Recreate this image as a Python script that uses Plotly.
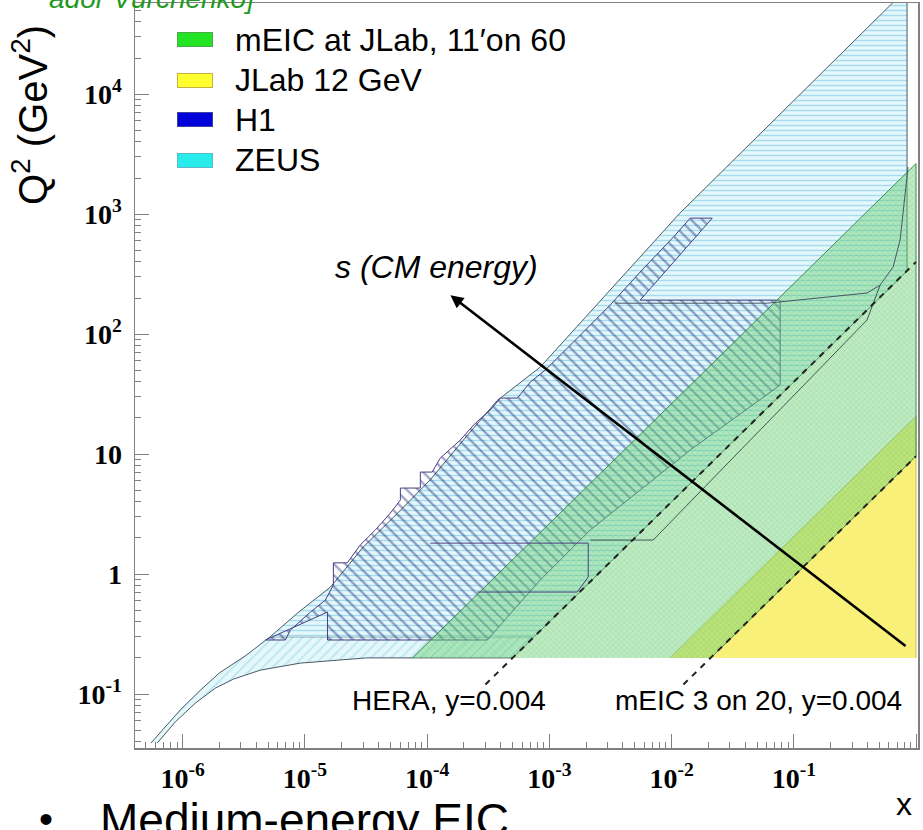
import math
import plotly.graph_objects as go

# ---------------- data: x (Bjorken) and Q^2 (GeV^2) ----------------
# ZEUS, low-Q2 part (beam-pipe region)
zeus_low_x = [5.5e-7, 7.2e-7, 9.6e-7, 1.4e-6, 2.0e-6, 3.3e-6, 5.2e-6, 7.5e-4, 5.0e-4,
              8.0e-5, 3.2e-5, 9.2e-6, 4.3e-6, 2.6e-6, 1.85e-6, 1.27e-6, 8.7e-7, 6.2e-7]
zeus_low_q2 = [0.039, 0.053, 0.074, 0.108, 0.15, 0.21, 0.30, 0.30, 0.20,
               0.20, 0.20, 0.181, 0.158, 0.133, 0.112, 0.084, 0.0585, 0.039]

# ZEUS, main region
zeus_x = [5.2e-6, 8.7e-6, 1.62e-5, 3.0e-5, 5.7e-5, 1.06e-4, 1.98e-4, 3.75e-4, 8.4e-4,
          1.17e-2, 0.558, 0.844, 0.844, 7.5e-4]
zeus_q2 = [0.30, 0.473, 0.78, 1.68, 3.2, 6.1, 13.1, 28, 53,
           1020, 5.0e4, 7.6e4, 336, 0.30]

# H1 region
h1_x = [4.75e-6, 6.93e-6, 7.6e-6, 1.11e-5, 1.47e-5, 1.71e-5, 1.71e-5, 2.22e-5, 2.84e-5,
        3.77e-5, 5.0e-5, 6.04e-5, 6.04e-5, 8.8e-5, 8.8e-5, 1.10e-4, 1.28e-4, 1.87e-4,
        2.48e-4, 3.29e-4, 3.97e-4, 5.47e-4, 6.98e-4, 9.25e-4, 1.63e-3, 3.15e-3, 5.53e-3,
        1.07e-2, 1.42e-2, 2.15e-2, 5.53e-3, 7.73e-2, 7.73e-2, 1.42e-2, 2.16e-3, 8.4e-4,
        3.1e-4, 1.53e-5, 1.53e-5, 4.75e-6]
h1_q2 = [0.282, 0.282, 0.341, 0.482, 0.607, 0.81, 1.24, 1.24, 1.75,
         2.33, 3.22, 4.14, 5.21, 5.21, 7.08, 7.08, 9.26, 13.1,
         18.1, 23.3, 29.3, 29.3, 39.8, 50.1, 89, 175, 329,
         668, 926, 926, 192, 192, 37.6, 10.8, 2.33, 0.89,
         0.282, 0.282, 0.482, 0.282]

# mEIC at JLab, 11 on 60
meic_x = [7.6e-5, 1.0, 1.0, 0.021]
meic_q2 = [0.2, 2640, 9.6, 0.2]

# JLab 12 GeV
jlab_x = [9.7e-3, 1.0, 1.0]
jlab_q2 = [0.2, 20.6, 0.2]

# dashed y = const lines
hera_line_x = [3.0e-4, 1.0]
hera_line_q2 = [0.12, 400]
meic_line_x = [1.25e-2, 1.0]
meic_line_q2 = [0.12, 9.6]

# extra region outlines
o1_x = [0.86, 0.74, 0.649, 0.508, 0.397, 0.0605, 3.46e-3]
o1_q2 = [2465, 607, 362, 256, 220, 181, 181]
o2_x = [1.06e-4, 2.08e-3, 2.08e-3, 1.69e-3, 2.57e-4]
o2_q2 = [1.81, 1.81, 0.944, 0.708, 0.708]
o3_x = [2.16e-3, 7.07e-3, 0.397, 0.508]
o3_q2 = [1.92, 1.92, 131, 256]

# arrow "s (CM energy)": tail -> head
arrow_x = [0.844, 1.55e-4]
arrow_q2 = [0.246, 211]

# text labels in the plot
label_texts = ["<i>s (CM energy)</i>", "HERA, y=0.004", "mEIC 3 on 20, y=0.004"]
label_x = [1.2e-4, 1.5e-4, 0.051]
label_q2 = [360, 0.088, 0.088]
label_sizes = [32, 28, 28]

legend_labels = ["mEIC at JLab, 11\u2032on 60", "JLab 12 GeV", "H1", "ZEUS"]
legend_colors = ["#22e422", "#ffff30", "#0000d8", "#28ecec"]
legend_borders = ["#4caa4c", "#c8b040", "#4040a0", "#60b8c0"]

x_tick_vals = [1e-6, 1e-5, 1e-4, 1e-3, 1e-2, 1e-1, 1]
x_tick_text = ["10<sup>-6</sup>", "10<sup>-5</sup>", "10<sup>-4</sup>", "10<sup>-3</sup>",
               "10<sup>-2</sup>", "10<sup>-1</sup>", "1"]
y_tick_vals = [0.1, 1, 10, 100, 1e3, 1e4]
y_tick_text = ["10<sup>-1</sup>", "1", "10", "10<sup>2</sup>", "10<sup>3</sup>", "10<sup>4</sup>"]

# ---------------- figure ----------------
fig = go.Figure()


def region(x, y, shape, fg, bg, size, sol, lcol, lw=1.0):
    fig.add_trace(go.Scatter(
        x=x, y=y, mode="lines", fill="toself",
        fillpattern=dict(shape=shape, fgcolor=fg, bgcolor=bg, size=size, solidity=sol),
        line=dict(color=lcol, width=lw), hoverinfo="skip", showlegend=False))


region(zeus_low_x, zeus_low_q2, "/", "rgba(90,190,210,0.75)", "rgba(228,248,251,1)", 7, 0.2, "#4a5a66", 1)
region(zeus_x, zeus_q2, "-", "rgba(70,175,215,0.8)", "rgba(228,248,251,1)", 5, 0.28, "#4a5a66", 1)
region(h1_x, h1_q2, "\\", "rgba(25,35,120,0.85)", "rgba(0,0,0,0)", 8, 0.28, "#4a3d80", 1)

fig.add_trace(go.Scatter(x=jlab_x, y=jlab_q2, mode="lines", fill="toself",
                         fillcolor="#f9f07a", line=dict(color="#b8b050", width=0.8),
                         hoverinfo="skip", showlegend=False))
region(meic_x, meic_q2, "x", "rgba(40,165,70,0.45)", "rgba(110,210,120,0.45)", 4, 0.25, "#3c8c50", 1)

for ox, oq, c in [(o1_x, o1_q2, "#4a5566"), (o2_x, o2_q2, "#4a3d80"), (o3_x, o3_q2, "#3d5a58")]:
    fig.add_trace(go.Scatter(x=ox, y=oq, mode="lines", line=dict(color=c, width=1),
                             hoverinfo="skip", showlegend=False))

for lx, lq in [(hera_line_x, hera_line_q2), (meic_line_x, meic_line_q2)]:
    fig.add_trace(go.Scatter(x=lx, y=lq, mode="lines",
                             line=dict(color="#222222", width=2, dash="6px,6px"),
                             hoverinfo="skip", showlegend=False))

annotations = []
# arrow
annotations.append(dict(
    x=math.log10(arrow_x[1]), y=math.log10(arrow_q2[1]),
    ax=math.log10(arrow_x[0]), ay=math.log10(arrow_q2[0]),
    xref="x", yref="y", axref="x", ayref="y", text="", showarrow=True,
    arrowhead=2, arrowsize=1.0, arrowwidth=2.6, arrowcolor="black"))
# labels
for t, lx, lq, fs in zip(label_texts, label_x, label_q2, label_sizes):
    annotations.append(dict(x=math.log10(lx), y=math.log10(lq), xref="x", yref="y",
                            text=t, showarrow=False, xanchor="center", yanchor="middle",
                            font=dict(family="Liberation Sans, Arial", size=fs, color="black")))

# legend (manual, solid swatches as in the original)
for i, (lab, col, bcol) in enumerate(zip(legend_labels, legend_colors, legend_borders)):
    py = 40 + 40 * i
    yp = (748 - py) / 745
    annotations.append(dict(x=(195 - 135) / 783, y=yp, xref="paper", yref="paper",
                            xanchor="center", yanchor="middle",
                            text=" ", showarrow=False, width=34, height=13,
                            bgcolor=col, bordercolor=bcol, borderwidth=1, borderpad=0))
    annotations.append(dict(x=(233 - 135) / 783, y=yp, xref="paper", yref="paper",
                            xanchor="left", yanchor="middle", text=lab, showarrow=False,
                            font=dict(family="Liberation Sans, Arial", size=32, color="black")))

# axis titles and slide text
annotations.append(dict(x=(30 - 135) / 783, y=(748 - 115) / 745, xref="paper", yref="paper",
                        xanchor="center", yanchor="middle",
                        text="Q<sup>2</sup> (GeV<sup>2</sup>)", textangle=-90, showarrow=False,
                        font=dict(family="Liberation Sans, Arial", size=40, color="black")))
annotations.append(dict(x=(904 - 135) / 783, y=(748 - 804) / 745, xref="paper", yref="paper",
                        xanchor="center", yanchor="middle",
                        text="x", showarrow=False,
                        font=dict(family="Liberation Sans, Arial", size=32, color="black")))
annotations.append(dict(x=(46 - 135) / 783, y=(748 - 795) / 745, xref="paper", yref="paper",
                        xanchor="center", yanchor="top", text="\u2022", showarrow=False,
                        font=dict(family="Liberation Sans, Arial", size=40, color="black")))
annotations.append(dict(x=(98 - 135) / 783, y=(748 - 792) / 745, xref="paper", yref="paper",
                        xanchor="left", yanchor="top", text="Medium-energy EIC", showarrow=False,
                        font=dict(family="Liberation Sans, Arial", size=46, color="black")))
annotations.append(dict(x=(257 - 135) / 783, y=(748 - 16) / 745, xref="paper", yref="paper",
                        xanchor="right", yanchor="bottom", text="<i>ador Vurchenko]</i>",
                        showarrow=False,
                        font=dict(family="Liberation Sans, Arial", size=28, color="#1f9a1f")))

minor_x = [m * 10 ** e for e in range(-7, 0) for m in range(2, 10)]
minor_y = [m * 10 ** e for e in range(-2, 5) for m in range(2, 10)]

axis_common = dict(type="log", showgrid=False, zeroline=False, showline=True, automargin=False,
                   linecolor="#808080", linewidth=1.5, mirror=True,
                   ticks="inside", ticklen=14, tickwidth=1, tickcolor="#808080",
                   tickmode="array",
                   tickfont=dict(family="Liberation Serif, Times New Roman", size=28,
                                 color="black", weight="bold"))

fig.update_layout(
    width=923, height=830, autosize=False,
    margin=dict(l=135, r=5, t=3, b=82, autoexpand=False),
    paper_bgcolor="white", plot_bgcolor="white",
    showlegend=False,
    xaxis=dict(**axis_common, range=[-6.39, 0.016], tickvals=x_tick_vals, ticktext=x_tick_text,
               ticklabelstandoff=5,
               minor=dict(tickvals=minor_x, ticks="inside", ticklen=6, tickcolor="#808080")),
    yaxis=dict(**axis_common, range=[-1.45, 4.76], tickvals=y_tick_vals, ticktext=y_tick_text,
               ticklabelstandoff=6,
               minor=dict(tickvals=minor_y, ticks="inside", ticklen=6, tickcolor="#808080")),
    annotations=annotations,
)

fig.write_html("out.html",
               config={"displayModeBar": False, "staticPlot": True},
               post_script="document.body.style.margin='0px';"
                           "document.body.style.overflow='hidden';")
